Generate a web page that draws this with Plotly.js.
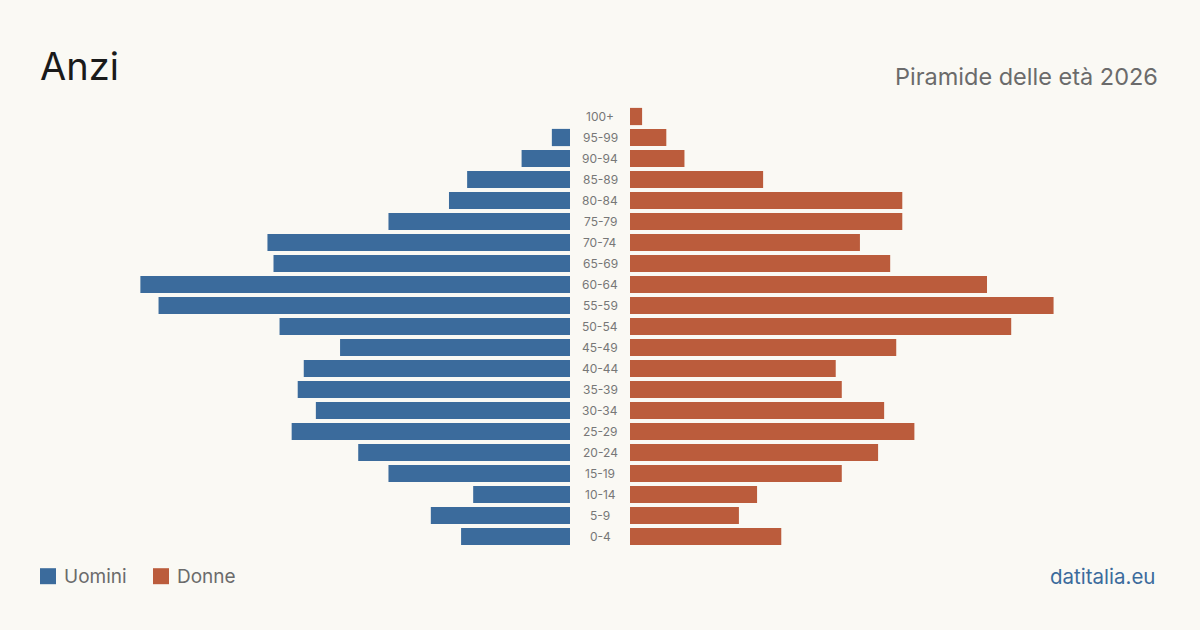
<!DOCTYPE html>
<html>
<head>
<meta charset="utf-8">
<script src="https://cdn.plot.ly/plotly-3.0.1.min.js"></script>
<style>
html,body{margin:0;padding:0;background:#faf9f4;}
#chart{width:1200px;height:630px;}
</style>
</head>
<body>
<div id="chart"></div>
<script>
// Age groups, bottom to top
const ageGroups = ["0-4","5-9","10-14","15-19","20-24","25-29","30-34","35-39","40-44","45-49","50-54","55-59","60-64","65-69","70-74","75-79","80-84","85-89","90-94","95-99","100+"];
const men   = [18, 23, 16, 30, 35, 46, 42, 45, 44, 38, 48, 68, 71, 49, 50, 30, 20, 17, 8, 3, 0];
const women = [25, 18, 21, 35, 41, 47, 42, 35, 34, 44, 63, 70, 59, 43, 38, 45, 45, 22, 9, 6, 2];
const seriesNames = ["Uomini", "Donne"];
const colors = ["#3b6b9c", "#bb5c3c"];

const W = 1200, H = 630;
const plotTop = 105.8, plotBottom = 546.8;
const py = p => (plotBottom - p) / (plotBottom - plotTop);
const px = p => p / W;
const R = 94.2;
const font = "Inter, 'Open Sans', sans-serif";

const traces = [
  {type: "bar", orientation: "h", y: ageGroups, x: men, xaxis: "x", yaxis: "y",
   marker: {color: colors[0]}, name: seriesNames[0], hoverinfo: "x+y"},
  {type: "bar", orientation: "h", y: ageGroups, x: women, xaxis: "x2", yaxis: "y",
   marker: {color: colors[1]}, name: seriesNames[1], hoverinfo: "x+y"}
];

const annotations = ageGroups.map(g => ({
  text: g, x: 0.5, xref: "paper", y: g, yref: "y", showarrow: false,
  xanchor: "center", yanchor: "middle", font: {family: font, size: 12, color: "#777777"}
}));

annotations.push(
  {text: "Anzi", x: px(38), xref: "paper", y: py(66), yref: "paper", showarrow: false,
   xanchor: "left", yanchor: "middle", font: {family: font, size: 38, color: "#1a1a1a"}},
  {text: "Piramide delle età 2026", x: px(1160), xref: "paper", y: py(76), yref: "paper", showarrow: false,
   xanchor: "right", yanchor: "middle", font: {family: font, size: 23.5, color: "#6b6b6b"}},
  {text: seriesNames[0], x: px(62), xref: "paper", y: py(576), yref: "paper", showarrow: false,
   xanchor: "left", yanchor: "middle", font: {family: font, size: 19, color: "#6b6b6b"}},
  {text: seriesNames[1], x: px(175), xref: "paper", y: py(576), yref: "paper", showarrow: false,
   xanchor: "left", yanchor: "middle", font: {family: font, size: 19, color: "#6b6b6b"}},
  {text: "datitalia.eu", x: px(1157), xref: "paper", y: py(576), yref: "paper", showarrow: false,
   xanchor: "right", yanchor: "middle", font: {family: font, size: 20.5, color: "#3b6b9c"}}
);

const shapes = [
  {type: "rect", xref: "paper", yref: "paper", x0: px(40), x1: px(56), y0: py(584), y1: py(568),
   fillcolor: colors[0], line: {width: 0}},
  {type: "rect", xref: "paper", yref: "paper", x0: px(153), x1: px(169), y0: py(584), y1: py(568),
   fillcolor: colors[1], line: {width: 0}}
];

const layout = {
  width: W, height: H,
  margin: {l: 0, r: 0, t: plotTop, b: H - plotBottom, pad: 0},
  paper_bgcolor: "#faf9f4", plot_bgcolor: "#faf9f4",
  showlegend: false,
  bargap: 0.18,
  xaxis: {domain: [0, 570/1200], range: [R, 0], visible: false, fixedrange: true},
  xaxis2: {domain: [630/1200, 1], range: [0, R], visible: false, fixedrange: true},
  yaxis: {type: "category", categoryorder: "array", categoryarray: ageGroups,
          range: [-0.5, ageGroups.length - 0.5], visible: false, fixedrange: true},
  annotations: annotations,
  shapes: shapes
};

Plotly.newPlot("chart", traces, layout, {displayModeBar: false, staticPlot: true});
</script>
</body>
</html>
